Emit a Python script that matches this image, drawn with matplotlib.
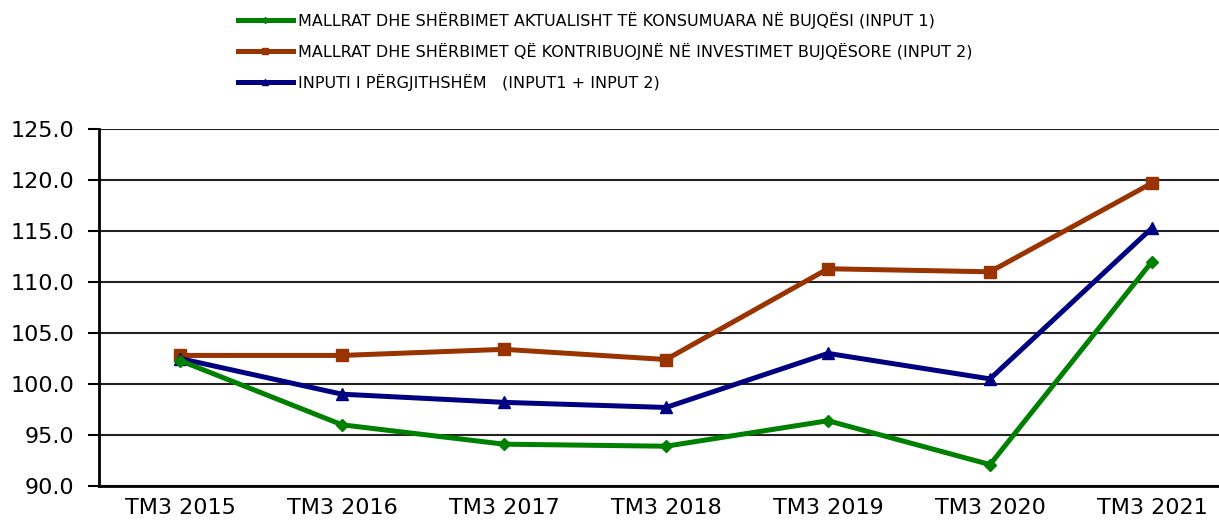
import matplotlib
matplotlib.use("Agg")
import matplotlib.pyplot as plt
from matplotlib.lines import Line2D
from matplotlib.font_manager import FontProperties

categories = ["TM3 2015", "TM3 2016", "TM3 2017", "TM3 2018", "TM3 2019", "TM3 2020", "TM3 2021"]
input1 = [102.3, 96.0, 94.1, 93.9, 96.4, 92.1, 112.0]
input2 = [102.8, 102.8, 103.4, 102.4, 111.3, 111.0, 119.7]
total = [102.5, 99.0, 98.2, 97.7, 103.0, 100.5, 115.3]
labels = [
    "MALLRAT DHE SHËRBIMET AKTUALISHT TË KONSUMUARA NË BUJQËSI (INPUT 1)",
    "MALLRAT DHE SHËRBIMET QË KONTRIBUOJNË NË INVESTIMET BUJQËSORE (INPUT 2)",
    "INPUTI I PËRGJITHSHËM   (INPUT1 + INPUT 2)",
]
yticks = [90.0, 95.0, 100.0, 105.0, 110.0, 115.0, 120.0, 125.0]

plt.rcParams['font.family'] = ['DejaVu Sans']

fig = plt.figure(figsize=(12.19, 5.21), dpi=100)
ax = fig.add_axes([99/1219, 35/521, (1233-99)/1219, 357/521])

x = list(range(len(categories)))
c1, c2, c3 = "#008000", "#993300", "#000080"
ax.plot(x, input2, color=c2, lw=3.6, marker="s", ms=8, zorder=3)
ax.plot(x, total, color=c3, lw=3.6, marker="^", ms=8, zorder=4)
ax.plot(x, input1, color=c1, lw=3.6, marker="D", ms=6, zorder=5)

ax.set_xlim(-0.5, len(categories) - 0.5)
ax.set_ylim(90, 125)
ax.set_yticks(yticks)
ax.set_yticklabels([f"{v:.1f}" for v in yticks], fontsize=16)
ax.set_xticks(x)
ax.set_xticklabels(categories, fontsize=16)
ax.tick_params(axis='x', length=0, pad=9)
ax.tick_params(axis='y', length=8, width=1.5, color='black', pad=9.5)
ax.yaxis.grid(True, color='#222222', lw=1.5)
ax.set_axisbelow(True)
for s in ['top', 'right']:
    ax.spines[s].set_visible(False)
ax.spines['left'].set_linewidth(2)
ax.spines['bottom'].set_linewidth(2)

handles = [
    Line2D([], [], color=c1, lw=3.6, marker="D", ms=3),
    Line2D([], [], color=c2, lw=3.6, marker="s", ms=4),
    Line2D([], [], color=c3, lw=3.6, marker="^", ms=4),
]
lp = FontProperties(family='DejaVu Sans', size=11.5)
fig.legend(handles, labels, loc="upper left", bbox_to_anchor=(238/1219, 1 - 11.5/521),
           frameon=False, prop=lp, handlelength=3.44, handletextpad=0.31,
           labelspacing=0.88, borderaxespad=0, borderpad=0)

fig.savefig("out.png", dpi=100)
